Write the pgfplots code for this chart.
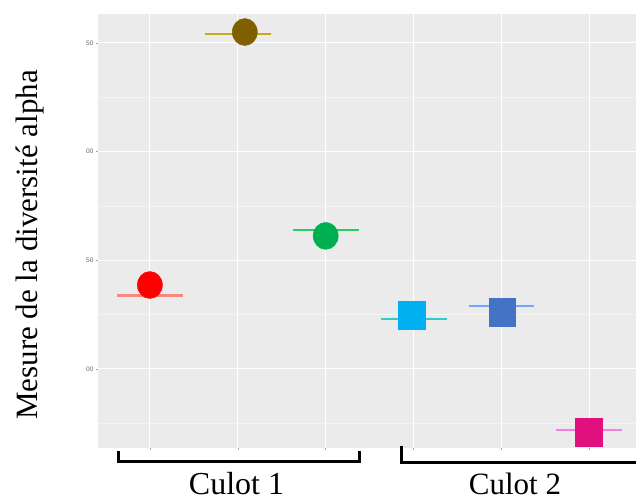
\documentclass[border=0pt]{standalone}
\usepackage{pgfplots}
\pgfplotsset{compat=1.18}
\usepackage{fontspec}
\setmainfont{Liberation Serif}
\newfontfamily\sansf{Liberation Sans}
\definecolor{panelgray}{HTML}{EBEBEB}
\definecolor{cRed}{HTML}{FF0000}
\definecolor{lRed}{HTML}{F8877D}
\definecolor{cBrown}{HTML}{7F6000}
\definecolor{lBrown}{HTML}{C9A820}
\definecolor{cGreen}{HTML}{00B050}
\definecolor{lGreen}{HTML}{2ECC60}
\definecolor{cCyan}{HTML}{00B0F0}
\definecolor{lCyan}{HTML}{30CCCC}
\definecolor{cBlue}{HTML}{4472C4}
\definecolor{lBlue}{HTML}{74A6FF}
\definecolor{cMag}{HTML}{E0107F}
\definecolor{lMag}{HTML}{F27EDF}
\begin{document}
\begin{tikzpicture}[x=1pt,y=1pt]
\path[use as bounding box] (0,0) rectangle (636,502);
\begin{axis}[
  at={(98pt,54pt)}, anchor=south west,
  scale only axis, width=538pt, height=434pt,
  xmin=0.41, xmax=6.53, ymin=63.6, ymax=263.3,
  axis line style={draw=none},
  axis background/.style={fill=panelgray},
  xtick={1,2,3,4,5,6}, xticklabels={},
  ytick={100,150,200,250}, yticklabels={00,50,00,50},
  minor ytick={75,125,175,225},
  xmajorgrids, ymajorgrids, yminorgrids,
  major grid style={white, line width=0.9pt},
  minor grid style={white!45!panelgray, line width=0.45pt},
  tick align=outside, xtick pos=left, ytick pos=left,
  major tick length=2pt, minor tick length=0pt,
  tick style={gray!70, line width=0.5pt},
  yticklabel style={font=\sansf\fontsize{6.5}{7}\selectfont, text=gray!80!black, xshift=1pt},
  clip=false,
]
% horizontal lines
\addplot[lRed, line width=2.2pt, no marks] coordinates {(0.625,133.8) (1.375,133.8)};
\addplot[lBrown, line width=2.2pt, no marks] coordinates {(1.625,254.1) (2.375,254.1)};
\addplot[lGreen, line width=2.2pt, no marks] coordinates {(2.625,163.9) (3.375,163.9)};
\addplot[lCyan, line width=2.2pt, no marks] coordinates {(3.625,123.0) (4.375,123.0)};
\addplot[lBlue, line width=2.2pt, no marks] coordinates {(4.625,129.0) (5.375,129.0)};
\addplot[lMag, line width=2.2pt, no marks] coordinates {(5.625,71.9) (6.375,71.9)};
% markers
\addplot[only marks, color=cRed, mark=*, mark size=13.5pt, mark options={draw=none, fill=cRed, xscale=0.93}] coordinates {(1,138.6)};
\addplot[only marks, color=cBrown, mark=*, mark size=13.5pt, mark options={draw=none, fill=cBrown, xscale=0.93}] coordinates {(2.08,255.0)};
\addplot[only marks, color=cGreen, mark=*, mark size=13.5pt, mark options={draw=none, fill=cGreen, xscale=0.93}] coordinates {(3.0,161.2)};
\addplot[only marks, color=cCyan, mark=square*, mark size=14pt, mark options={draw=none, fill=cCyan, xscale=0.95}] coordinates {(3.98,124.8)};
\addplot[only marks, color=cBlue, mark=square*, mark size=14pt, mark options={draw=none, fill=cBlue, xscale=0.95}] coordinates {(5.01,126.2)};
\addplot[only marks, color=cMag, mark=square*, mark size=14pt, mark options={draw=none, fill=cMag, xscale=0.95}] coordinates {(5.99,71.0)};
\end{axis}
% y label
\node[rotate=90, anchor=base, font=\fontsize{31}{36}\selectfont] at (37.5,257) {Mesure de la diversité alpha};
% brackets
\draw[line width=3pt, line cap=butt] (118.5,51) -- (118.5,40.5) -- (359.5,40.5) -- (359.5,51);
\draw[line width=3pt, line cap=butt] (401.5,56) -- (401.5,39.5) -- (640,39.5);
\node[anchor=base, font=\fontsize{32}{36}\selectfont] at (236.5,7) {Culot 1};
\node[anchor=base, font=\fontsize{31}{36}\selectfont] at (515,7) {Culot 2};
\end{tikzpicture}
\end{document}
